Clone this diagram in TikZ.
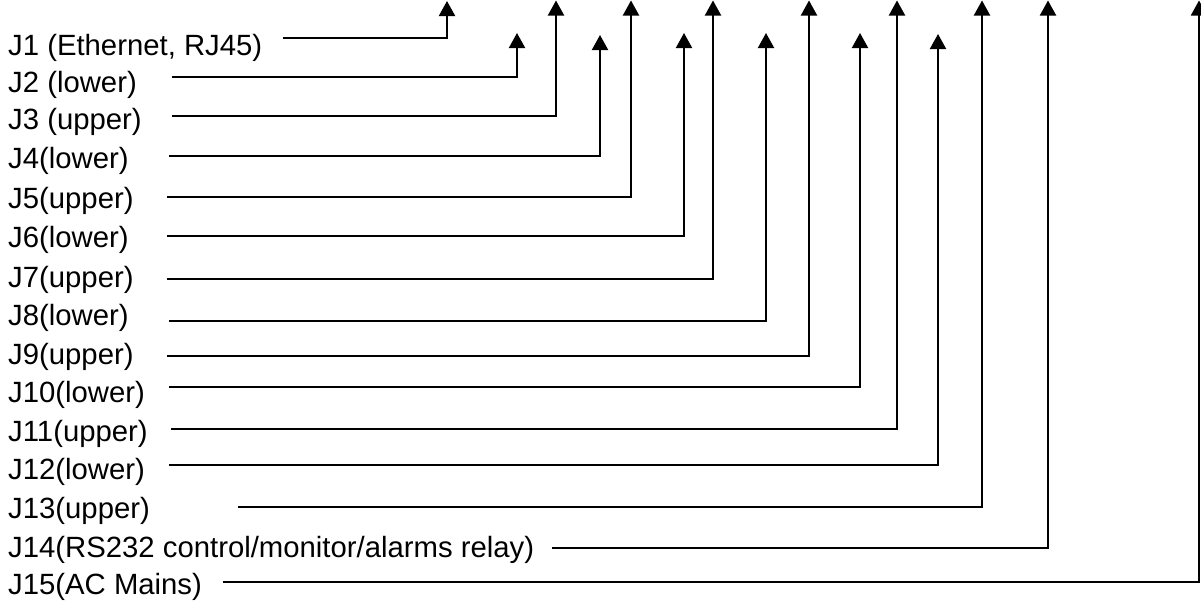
\documentclass[tikz,border=0pt]{standalone}
\usepackage{fontspec}
\setmainfont{Liberation Sans}
\usetikzlibrary{arrows.meta}
\begin{document}
\begin{tikzpicture}[x=1pt,y=-1pt,
  lbl/.style={anchor=base west,inner sep=0pt,font=\fontsize{29.3}{35}\selectfont},
  conn/.style={line width=2pt,-{Triangle[width=16pt,length=15pt]}}]
\useasboundingbox (0,0) rectangle (1201,600);
% labels
\node[lbl] (j1)  at (8,55)  {J1 (Ethernet, RJ45)};
\node[lbl] (j2)  at (8,92)  {J2 (lower)};
\node[lbl] (j3)  at (8,129) {J3 (upper)};
\node[lbl] (j4)  at (8,168) {J4(lower)};
\node[lbl] (j5)  at (8,208) {J5(upper)};
\node[lbl] (j6)  at (8,247) {J6(lower)};
\node[lbl] (j7)  at (8,287) {J7(upper)};
\node[lbl] (j8)  at (8,325) {J8(lower)};
\node[lbl] (j9)  at (8,364) {J9(upper)};
\node[lbl] (j10) at (8,402) {J10(lower)};
\node[lbl] (j11) at (8,441) {J11(upper)};
\node[lbl] (j12) at (8,479) {J12(lower)};
\node[lbl] (j13) at (8,518) {J13(upper)};
\node[lbl] (j14) at (8,557) {J14(RS232 control/monitor/alarms relay)};
\node[lbl] (j15) at (8,594) {J15(AC Mains)};
% connector start points
\coordinate (s1)  at (283,37.7);
\coordinate (s2)  at (172,76.7);
\coordinate (s3)  at (172,115.5);
\coordinate (s4)  at (169,155.5);
\coordinate (s5)  at (167,196.5);
\coordinate (s6)  at (167,235.7);
\coordinate (s7)  at (167,279);
\coordinate (s8)  at (169,320.5);
\coordinate (s9)  at (167,355.5);
\coordinate (s10) at (169,387);
\coordinate (s11) at (171,429);
\coordinate (s12) at (169,465);
\coordinate (s13) at (238,506.7);
\coordinate (s14) at (552,548);
\coordinate (s15) at (223,582);
% arrow tips
\coordinate (t1)  at (447,1);
\coordinate (t2)  at (517,33);
\coordinate (t3)  at (556,0.5);
\coordinate (t4)  at (600,35);
\coordinate (t5)  at (631,0.5);
\coordinate (t6)  at (684,33);
\coordinate (t7)  at (713,0.5);
\coordinate (t8)  at (766,33);
\coordinate (t9)  at (809,0.5);
\coordinate (t10) at (860,33);
\coordinate (t11) at (897,0.5);
\coordinate (t12) at (938,34);
\coordinate (t13) at (982,0.5);
\coordinate (t14) at (1048,0.5);
\coordinate (t15) at (1199,0.5);
% connectors
\foreach \i in {1,...,15}{
  \draw[conn] (s\i) -| (t\i);
}
\end{tikzpicture}
\end{document}
